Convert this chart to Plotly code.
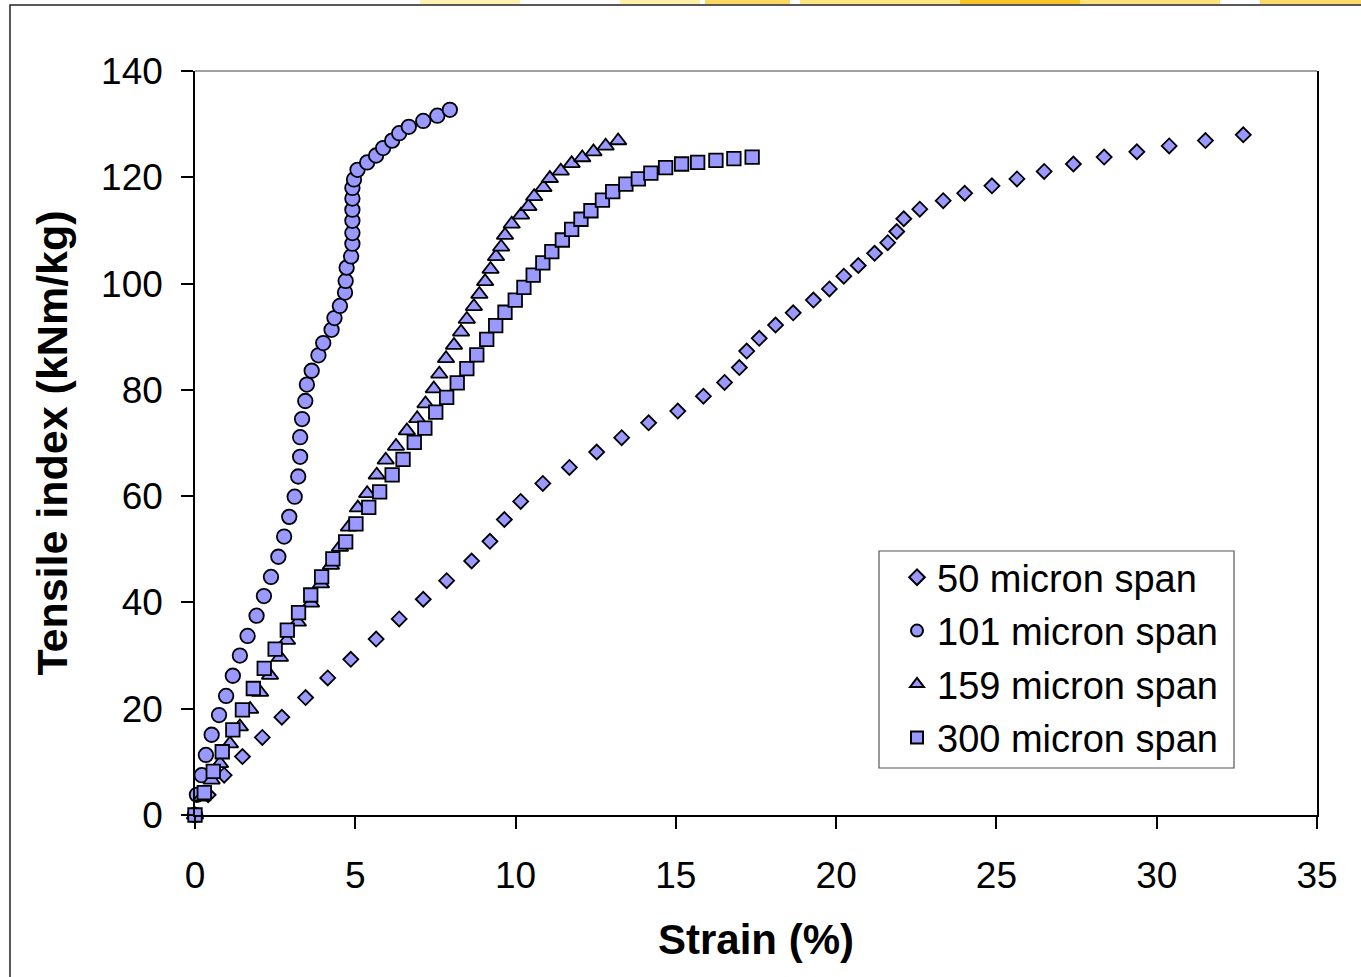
import plotly.graph_objects as go

# Tensile index vs strain for four test spans
strain_50 = [0, 0.41, 0.91, 1.48, 2.10, 2.71, 3.45, 4.14, 4.86, 5.65, 6.37, 7.12, 7.85, 8.63,
             9.20, 9.65, 10.16, 10.85, 11.68, 12.53, 13.31, 14.15, 15.06, 15.86, 16.52, 16.98,
             17.21, 17.60, 18.11, 18.66, 19.29, 19.79, 20.24, 20.69, 21.20, 21.61, 21.89, 22.11,
             22.61, 23.34, 24.01, 24.86, 25.64, 26.49, 27.40, 28.36, 29.38, 30.39, 31.52, 32.70]
index_50 = [0, 3.8, 7.5, 11.0, 14.6, 18.4, 22.1, 25.8, 29.3, 33.1, 36.9, 40.6, 44.1, 47.8,
            51.5, 55.6, 59.0, 62.4, 65.4, 68.3, 71.0, 73.8, 76.0, 78.8, 81.4, 84.2,
            87.3, 89.7, 92.2, 94.5, 96.9, 99.0, 101.4, 103.4, 105.7, 107.7, 109.8, 112.2,
            114.0, 115.6, 117.0, 118.4, 119.7, 121.1, 122.5, 123.8, 124.8, 125.9, 126.9, 128.0]

strain_101 = [0, 0.06, 0.21, 0.34, 0.52, 0.75, 0.97, 1.18, 1.40, 1.64, 1.92, 2.15, 2.37, 2.60,
              2.78, 2.94, 3.11, 3.22, 3.28, 3.28, 3.34, 3.44, 3.49, 3.64, 3.85, 4.00, 4.26,
              4.35, 4.52, 4.68, 4.70, 4.73, 4.87, 4.91, 4.91, 4.91, 4.91, 4.91, 4.91, 4.96,
              5.07, 5.37, 5.65, 5.87, 6.15, 6.37, 6.67, 7.12, 7.56, 7.95]
index_101 = [0, 3.8, 7.5, 11.3, 15.1, 18.8, 22.4, 26.2, 30.0, 33.7, 37.5, 41.2, 44.8, 48.6,
             52.4, 56.1, 59.9, 63.7, 67.4, 71.1, 74.5, 77.9, 81.0, 83.6, 86.5, 88.8, 91.3,
             93.5, 95.8, 98.3, 100.5, 103.0, 105.1, 107.5, 109.5, 111.8, 113.9, 116.0, 118.0, 119.6,
             121.4, 122.8, 124.1, 125.5, 126.9, 128.3, 129.5, 130.6, 131.6, 132.7]

strain_159 = [0, 0.21, 0.52, 0.78, 1.09, 1.40, 1.72, 2.03, 2.34, 2.65, 2.87, 3.21, 3.62, 3.93,
              4.24, 4.52, 4.80, 5.08, 5.37, 5.67, 5.95, 6.27, 6.61, 6.93, 7.19, 7.45, 7.62,
              7.83, 8.08, 8.30, 8.48, 8.70, 8.87, 9.05, 9.22, 9.39, 9.55, 9.67, 9.88, 10.17,
              10.40, 10.58, 10.87, 11.07, 11.41, 11.75, 12.08, 12.43, 12.81, 13.20]
index_159 = [0, 3.4, 6.6, 9.7, 13.4, 16.6, 19.9, 23.1, 26.3, 29.7, 32.9, 36.3, 39.9, 43.5,
             47.0, 50.4, 54.2, 57.8, 60.5, 64.0, 66.8, 69.4, 72.3, 74.6, 77.4, 80.2, 83.0,
             85.9, 88.4, 90.9, 93.3, 95.7, 98.0, 100.4, 102.7, 105.1, 106.9, 109.1, 111.2, 112.9,
             114.5, 116.4, 118.1, 119.8, 121.2, 122.6, 123.7, 124.8, 125.9, 126.9]

strain_300 = [0, 0.29, 0.57, 0.85, 1.18, 1.48, 1.82, 2.16, 2.50, 2.88, 3.23, 3.61, 3.95, 4.30,
              4.70, 5.02, 5.42, 5.76, 6.15, 6.49, 6.84, 7.17, 7.51, 7.85, 8.18, 8.48, 8.79,
              9.10, 9.38, 9.67, 9.99, 10.26, 10.55, 10.85, 11.13, 11.46, 11.75, 12.04, 12.35, 12.71,
              13.03, 13.44, 13.83, 14.22, 14.68, 15.18, 15.68, 16.25, 16.81, 17.38]
index_300 = [0, 4.2, 8.2, 11.9, 16.0, 19.8, 23.8, 27.6, 31.2, 34.8, 38.1, 41.4, 44.8, 48.2,
             51.4, 54.8, 57.9, 60.8, 64.0, 66.9, 70.1, 72.8, 75.8, 78.6, 81.3, 84.0, 86.6,
             89.5, 92.1, 94.6, 96.9, 99.3, 101.6, 103.9, 106.0, 108.2, 110.2, 112.1, 113.7, 115.7,
             117.3, 118.7, 119.7, 120.8, 121.8, 122.5, 122.8, 123.2, 123.5, 123.8]

series_names = ["50 micron span", "101 micron span", "159 micron span", "300 micron span"]
x_ticks = [0, 5, 10, 15, 20, 25, 30, 35]
y_ticks = [0, 20, 40, 60, 80, 100, 120, 140]

FONT = "Liberation Sans, Arial, sans-serif"
FILL = "#9999FF"

series = [
    (strain_50, index_50, "diamond", 11.5),
    (strain_101, index_101, "circle", 14.5),
    (strain_159, index_159, "triangle-up", 14.5),
    (strain_300, index_300, "square", 13.5),
]

fig = go.Figure()
for i, ((xs, ys, sym, sz), name) in enumerate(zip(series, series_names)):
    fig.add_trace(go.Scatter(
        x=xs, y=ys, mode="markers", name=name, legendgroup=f"g{i}",
        marker=dict(symbol=sym, size=sz, color=FILL,
                    line=dict(color="black", width=1.8)),
        cliponaxis=False,
    ))

W, H = 1361, 977
L, R, T, B = 195, 44, 71, 162
pw, ph = W - L - R, H - T - B


def px(xp):
    return (xp - L) / pw


def py(yp):
    return (H - B - yp) / ph


shapes = [
    # outer frame of the chart object
    dict(type="rect", xref="paper", yref="paper", x0=px(10), x1=px(1400),
         y0=py(1010), y1=py(5), line=dict(color="#222", width=1.5), layer="below"),
    # plot-area top edge
    dict(type="line", xref="paper", yref="paper", x0=0, x1=1, y0=1, y1=1,
         line=dict(color="#808080", width=1.5)),
    # legend box
    dict(type="rect", xref="paper", yref="paper", x0=px(879), x1=px(1234),
         y0=py(768), y1=py(551), line=dict(color="#555", width=1.2),
         fillcolor="white", layer="below"),
]
# strip of the slide backdrop above the frame
for x0, x1, col in [(420, 520, "#FFF1B0"), (620, 700, "#FFEFA8"), (705, 790, "#FCD860"),
                    (800, 960, "#FFE680"), (960, 1080, "#F7C52A"), (1080, 1220, "#FFE27A"),
                    (1260, 1361, "#FADB6A")]:
    shapes.append(dict(type="rect", xref="paper", yref="paper", x0=px(x0), x1=px(x1),
                       y0=py(4), y1=py(0), line=dict(width=0), fillcolor=col, layer="below"))

fig.update_layout(
    width=W, height=H,
    margin=dict(l=L, r=R, t=T, b=B, pad=0),
    paper_bgcolor="white", plot_bgcolor="white",
    font=dict(family=FONT, color="black", size=37),
    showlegend=True,
    legend=dict(
        x=px(897), y=py(546), xanchor="left", yanchor="top",
        bgcolor="rgba(0,0,0,0)", borderwidth=0,
        font=dict(family=FONT, size=38, color="black"),
        tracegroupgap=1, itemsizing="constant",
    ),
    xaxis=dict(
        range=[0, 35], tickvals=x_ticks, ticktext=[str(v) for v in x_ticks],
        showgrid=False, zeroline=False, showline=True, linecolor="black", linewidth=1.5,
        ticks="outside", ticklen=12, tickwidth=1.5, tickcolor="black",
        tickfont=dict(family=FONT, size=37), ticklabelstandoff=15,
        title=dict(text="<b>Strain (%)</b>", font=dict(family=FONT, size=42), standoff=29),
    ),
    yaxis=dict(
        range=[0, 140], tickvals=y_ticks, ticktext=[str(v) for v in y_ticks],
        showgrid=False, zeroline=False, showline=True, linecolor="black", linewidth=1.5,
        mirror=True,
        ticks="outside", ticklen=12, tickwidth=1.5, tickcolor="black",
        tickfont=dict(family=FONT, size=37), ticklabelstandoff=11,
        title=dict(text="<b>Tensile index (kNm/kg)</b>", font=dict(family=FONT, size=43),
                   standoff=20),
    ),
    shapes=shapes,
)

fig.write_html("out.html")
